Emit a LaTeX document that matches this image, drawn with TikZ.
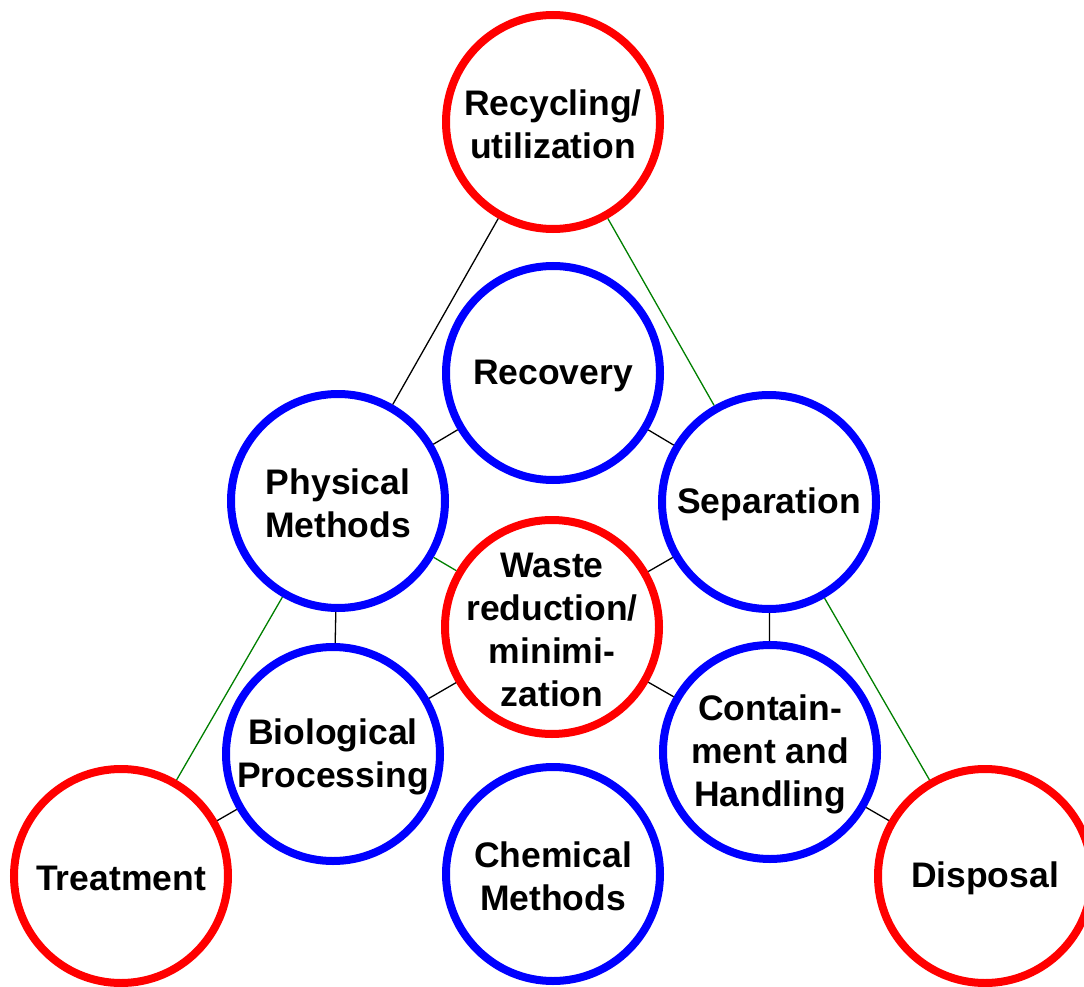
\documentclass[tikz,border=0pt]{standalone}
\usepackage{fontspec}
\setmainfont{Liberation Sans}
\definecolor{ringred}{RGB}{255,0,0}
\definecolor{ringblue}{RGB}{0,0,255}
\definecolor{linkgreen}{RGB}{0,128,0}
\tikzset{
  ringtext/.style={align=center, inner sep=0pt, yshift=-2.5pt,
    font=\fontsize{35.5}{43}\selectfont\bfseries},
  ring/.style={circle, minimum size=214pt, inner sep=0pt, line width=8pt,
    fill=white},
  outerring/.style={ring, draw=ringred},
  innerring/.style={ring, draw=ringblue},
  link/.style={line width=1.3pt, black},
  greenlink/.style={line width=1.3pt, linkgreen},
}
\begin{document}
\begin{tikzpicture}[x=1pt,y=-1pt]
\useasboundingbox (0,0) rectangle (1084,987);
\clip (0,0) rectangle (1084,987);
\fill[white] (0,0) rectangle (1084,987);

% outer (red) stages
\node[outerring, label={[ringtext]center:Recycling/\\utilization}] (recy) at (553,122) {};
\node[outerring, label={[ringtext]center:Treatment}] (treat) at (121,876) {};
\node[outerring, label={[ringtext]center:Disposal}] (disp) at (985,876) {};

% inner (blue) methods and the central red goal
\node[innerring, label={[ringtext]center:Recovery}] (recov) at (553,373) {};
\node[innerring, label={[ringtext]center:Physical\\Methods}] (phys) at (338,501) {};
\node[innerring, label={[ringtext]center:Separation}] (sep) at (769,502) {};
\node[outerring, label={[ringtext]center:Waste\\reduction/\\minimi-\\zation}] (waste) at (552,627) {};
\node[innerring, label={[ringtext]center:Biological\\Processing}] (bio) at (333,754) {};
\node[innerring, label={[ringtext]center:Contain-\\ment and\\Handling}] (cont) at (770,752) {};
\node[innerring, label={[ringtext]center:Chemical\\Methods}] (chem) at (553,874) {};

% connectors
\draw[link] (recy) -- (phys);
\draw[greenlink] (recy) -- (sep);
\draw[link] (recov) -- (phys);
\draw[link] (recov) -- (sep);
\draw[greenlink] (phys) -- (waste);
\draw[link] (sep) -- (waste);
\draw[link] (phys) -- (bio);
\draw[link] (sep) -- (cont);
\draw[link] (waste) -- (bio);
\draw[link] (waste) -- (cont);
\draw[greenlink] (phys) -- (treat);
\draw[link] (bio) -- (treat);
\draw[greenlink] (sep) -- (disp);
\draw[link] (cont) -- (disp);
\end{tikzpicture}
\end{document}
